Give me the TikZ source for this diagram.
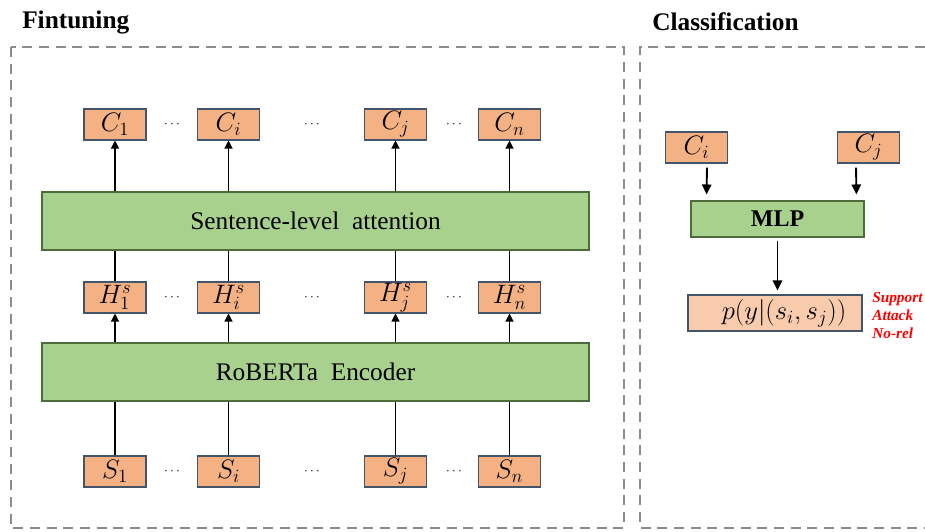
\RequirePackage{fix-cm}
\documentclass[tikz,border=0pt]{standalone}
\usepackage{fontspec}
\setmainfont{Liberation Serif}
\usetikzlibrary{arrows.meta}

\definecolor{boxorange}{HTML}{F4B183}
\definecolor{boxpeach}{HTML}{F8CBAD}
\definecolor{boxgreen}{HTML}{A9D18E}
\definecolor{edgeblue}{HTML}{44546A}
\definecolor{edgegreen}{HTML}{4E6B3A}
\definecolor{framegray}{HTML}{8C8C8C}

\tikzset{
  frame/.style={draw=framegray,line width=1.5pt,dash pattern=on 7.5pt off 5pt},
  title/.style={inner sep=0pt,font=\fontsize{19}{22}\selectfont\bfseries},
  vec/.style={draw=edgeblue,fill=boxorange,line width=0.8pt,minimum width=46.5pt,
    minimum height=23.25pt,inner sep=0pt,font=\fontsize{20}{23}\selectfont},
  layer/.style={draw=edgegreen,fill=boxgreen,line width=0.8pt,minimum width=410.25pt,
    minimum height=43.5pt,inner sep=0pt,font=\fontsize{19}{22}\selectfont},
  dots/.style={inner sep=0pt,font=\fontsize{10}{12}\selectfont},
  up/.style={line width=0.9pt,-{Triangle[length=6pt,width=6pt]}},
  link/.style={line width=0.9pt},
  thick arrow/.style={line width=1.4pt,-{Triangle[length=7.5pt,width=7pt]}},
  rel/.style={inner sep=0pt,align=left,text=red,font=\fontsize{11.5}{13.5}\selectfont\bfseries\itshape}
}

\begin{document}
\begin{tikzpicture}[x=0.75pt,y=-0.75pt]
  \useasboundingbox (0,0) rectangle (925,532);

  % frames and titles
  \draw[frame] (11,47) rectangle (624,528);
  \draw[frame] (925,47) -- (640,47) -- (640,528) -- (925,528);
  \node[title,anchor=base west] (ft) at (22,28) {Fintuning};
  \node[title,anchor=base west] (cl) at (652,30) {Classification};

  % fine-tuning part
  \node[layer] (att) at (315.5,221) {Sentence-level~~attention};
  \node[layer] (enc) at (315.5,372) {RoBERTa~~Encoder};

  \foreach \x/\i in {115/1,228.5/i,395.5/j,509.5/n}{
    \node[vec] (c\i) at (\x,124.5) {$C_\i$};
    \node[vec] (h\i) at (\x,297.5) {$H^{s}_{\i}$};
    \node[vec] (s\i) at (\x,471.5) {$S_\i$};
    \draw[up] (att.north -| c\i) -- (c\i);
    \draw[link] (h\i) -- (att.south -| h\i);
    \draw[up] (enc.north -| h\i) -- (h\i);
    \draw[link] (s\i) -- (enc.south -| s\i);
  }
  \foreach \x [count=\k] in {172,312,454}
    \foreach \y [count=\r] in {124.5,297.5,471.5}
      \node[dots] (dot\k\r) at (\x,\y) {$\cdots$};

  % classification part
  \node[vec] (pi) at (696.5,147.5) {$C_i$};
  \node[vec] (pj) at (868.5,147.5) {$C_j$};
  \node[layer,minimum width=129.75pt,minimum height=27pt,font=\fontsize{18}{21}\selectfont\bfseries]
    (mlp) at (777.5,219) {MLP};
  \node[vec,fill=boxpeach,minimum width=130.5pt,minimum height=27pt]
    (prob) at (775,313) {\hspace{13.5pt}$p(y\big|(s_i,s_j))$};
  \node[rel,anchor=west] (lab) at (872,315) {Support\\Attack\\No-rel};

  \draw[thick arrow,shorten <=3pt,shorten >=4.5pt] ([xshift=7.9pt]pi.south) -- ([xshift=12pt]mlp.north west);
  \draw[thick arrow,shorten <=3pt,shorten >=4.5pt] ([xshift=-9.4pt]pj.south) -- ([xshift=-6pt]mlp.north east);
  \draw[thick arrow,shorten <=2.25pt,shorten >=3pt] (mlp) -- (mlp |- prob.north);
\end{tikzpicture}
\end{document}
